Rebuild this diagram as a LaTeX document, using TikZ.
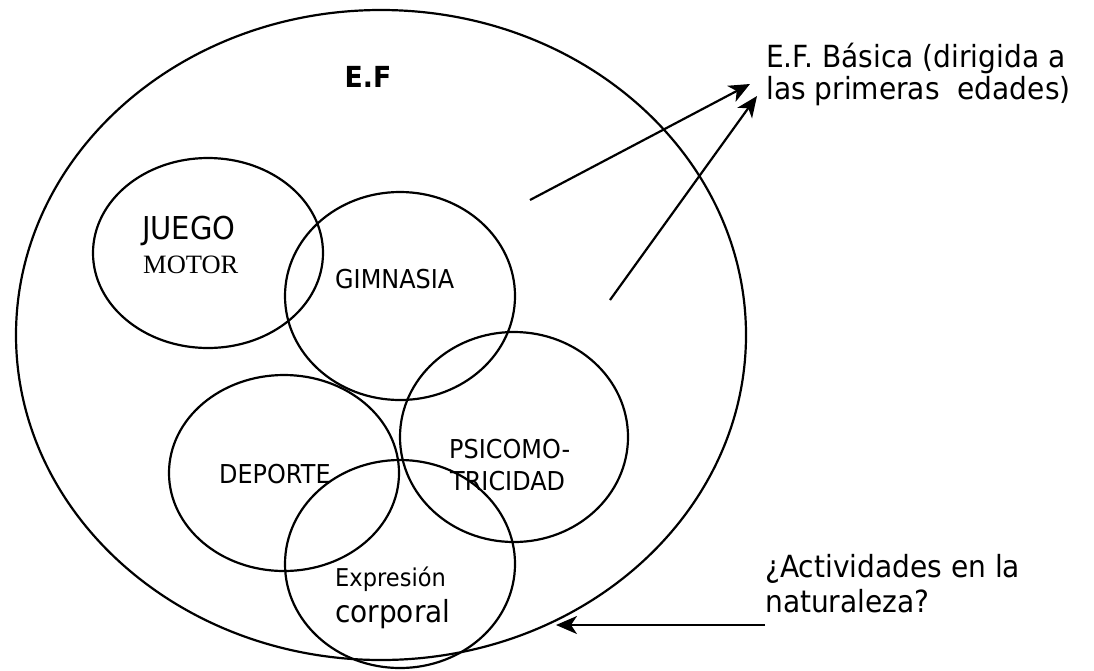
\documentclass[tikz,border=0pt]{standalone}
\usepackage{fontspec}
\setmainfont{DejaVu Sans}[FakeStretch=0.92]
\newfontfamily\motorfont{Liberation Serif}
\usetikzlibrary{shapes.geometric,arrows.meta}
\begin{document}
\begin{tikzpicture}[x=1pt,y=-1pt,
  ring/.style={draw, ellipse, line width=2.2pt, inner sep=0pt, outer sep=0pt},
  lbl/.style={inner sep=0pt, font=\fontsize{26}{30}\selectfont},
  side/.style={inner sep=0pt, anchor=base west, font=\fontsize{30.5}{34}\selectfont},
  arr/.style={line width=2.2pt, -{Stealth[length=21pt, width=18pt, inset=6pt]}}]
\useasboundingbox (0,0) rectangle (1094,670);
\fill[white] (0,0) rectangle (1094,670);

% whole field and its sub-areas
\node[ring, minimum width=730pt, minimum height=650pt] (ef) at (381,335) {};
\node[ring, minimum width=230pt, minimum height=190pt] (juego) at (208,253) {};
\node[ring, minimum width=230pt, minimum height=208pt] (gimn) at (400,296) {};
\node[ring, minimum width=230pt, minimum height=196pt] (dep) at (284,473) {};
\node[ring, minimum width=228pt, minimum height=210pt] (psico) at (514,437) {};
\node[ring, minimum width=230pt, minimum height=208pt] (expr) at (400,564) {};

% labels inside the circles
\node[inner sep=0pt, anchor=base, font=\bfseries\fontsize{29}{32}\selectfont] (eftxt) at (368,87) {E.F};
\node[inner sep=0pt, anchor=base west, font=\fontsize{31.5}{34}\selectfont] (juegotxt) at (142,239) {JUEGO};
\node[inner sep=0pt, anchor=base west, font=\motorfont\fontsize{26.5}{30}\selectfont] (motortxt) at (143,273) {MOTOR};
\node[lbl, anchor=base west] (gimntxt) at (335,288) {GIMNASIA};
\node[lbl, anchor=base west] (deptxt) at (219,483) {DEPORTE};
\node[lbl, anchor=base west] (psicotxt) at (449,458) {PSICOMO-};
\node[lbl, anchor=base west] (trictxt) at (450,490) {TRICIDAD};
\node[inner sep=0pt, anchor=base west, font=\fontsize{24.5}{28}\selectfont] (exprtxt) at (335,586) {Expresión};
\node[inner sep=0pt, anchor=base west, font=\fontsize{30.4}{32}\selectfont] (corptxt) at (335,622) {corporal};

% notes on the right
\node[side] (basica1) at (766,67) {E.F. Básica (dirigida a};
\node[side] (basica2) at (766,99) {las primeras\ \ edades)};
\node[side] (nat1) at (765,577) {¿Actividades en la};
\node[side] (nat2) at (765,612) {naturaleza?};

% arrows
\coordinate (a1s) at (530,200);
\coordinate (a1e) at (750,84);
\coordinate (a2s) at (610,300);
\coordinate (a2e) at (757,96);
\coordinate (a3s) at (765,625);
\coordinate (a3e) at (556,625);
\draw[arr] (a1s) -- (a1e);
\draw[arr] (a2s) -- (a2e);
\draw[arr] (a3s) -- (a3e);
\end{tikzpicture}
\end{document}
